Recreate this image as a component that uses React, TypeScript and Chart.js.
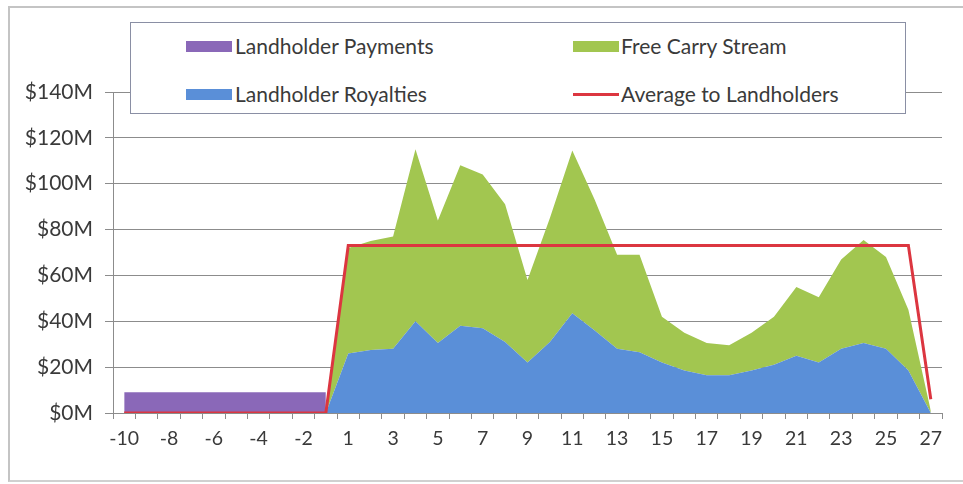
import React, { useEffect, useRef } from "react";
import { Chart, registerables } from "chart.js";

Chart.register(...registerables);

const categories: string[] = [
  "-10", "-9", "-8", "-7", "-6", "-5", "-4", "-3", "-2", "-1",
  "1", "2", "3", "4", "5", "6", "7", "8", "9", "10", "11", "12", "13", "14",
  "15", "16", "17", "18", "19", "20", "21", "22", "23", "24", "25", "26", "27",
];

// $M
const landholderPayments: (number | null)[] = [
  9, 9, 9, 9, 9, 9, 9, 9, 9, 9,
  null, null, null, null, null, null, null, null, null, null, null, null, null, null,
  null, null, null, null, null, null, null, null, null, null, null, null, null,
];

const landholderRoyalties: number[] = [
  0, 0, 0, 0, 0, 0, 0, 0, 0, 0,
  26, 27.5, 28, 40, 30.5, 38, 37, 31, 22, 31, 43.5, 36, 28, 26.5,
  22, 18.5, 16.5, 16.5, 18.5, 21, 25, 22, 28, 30.5, 28, 18.5, 0,
];

const freeCarryStream: number[] = [
  0, 0, 0, 0, 0, 0, 0, 0, 0, 0,
  46, 47.5, 49, 75, 53.5, 70, 67, 60, 36, 54, 71, 57, 41, 42.5,
  20, 16.5, 14, 13, 16.5, 21, 30, 28.5, 39, 45, 40, 26.5, 1,
];

const averageToLandholders: number[] = [
  0, 0, 0, 0, 0, 0, 0, 0, 0, 0,
  73, 73, 73, 73, 73, 73, 73, 73, 73, 73, 73, 73, 73, 73,
  73, 73, 73, 73, 73, 73, 73, 73, 73, 73, 73, 73, 6,
];

const yTicks: number[] = [0, 20, 40, 60, 80, 100, 120, 140];

const FONT = "Lato, 'Open Sans', sans-serif";
const TEXT = "#3a3a3a";
const GRID = "#8c8c8c";

const COL_PURPLE = "#8a68b8";
const COL_BLUE = "#5a8fd8";
const COL_GREEN = "#a2c650";
const COL_RED = "#dc3640";

export default function App() {
  const canvasRef = useRef<HTMLCanvasElement | null>(null);

  useEffect(() => {
    const canvas = canvasRef.current;
    if (!canvas) return;
    const chart = new Chart(canvas, {
      type: "line",
      data: {
        labels: categories,
        datasets: [
          {
            label: "Average to Landholders",
            data: averageToLandholders,
            borderColor: COL_RED,
            backgroundColor: COL_RED,
            borderWidth: 3,
            pointRadius: 0,
            fill: false,
            stack: "avg",
            tension: 0,
          },
          {
            label: "Landholder Payments",
            data: landholderPayments,
            borderColor: COL_PURPLE,
            backgroundColor: COL_PURPLE,
            borderWidth: 0,
            pointRadius: 0,
            fill: "origin",
            stack: "pay",
            spanGaps: false,
            tension: 0,
          },
          {
            label: "Landholder Royalties",
            data: landholderRoyalties,
            borderColor: COL_BLUE,
            backgroundColor: COL_BLUE,
            borderWidth: 0,
            pointRadius: 0,
            fill: "origin",
            stack: "main",
            tension: 0,
          },
          {
            label: "Free Carry Stream",
            data: freeCarryStream,
            borderColor: COL_GREEN,
            backgroundColor: COL_GREEN,
            borderWidth: 0,
            pointRadius: 0,
            fill: "-1",
            stack: "main",
            tension: 0,
          },
        ],
      },
      options: {
        responsive: false,
        animation: false,
        layout: { padding: { top: 92, right: 21, bottom: 0, left: 0 } },
        plugins: {
          legend: { display: false },
          tooltip: { enabled: false },
        },
        scales: {
          x: {
            type: "category",
            offset: true,
            grid: {
              offset: true,
              drawOnChartArea: false,
              drawTicks: true,
              tickLength: 6,
              color: GRID,
            },
            border: { color: GRID, width: 1 },
            ticks: {
              autoSkip: false,
              maxRotation: 0,
              padding: 8,
              color: TEXT,
              font: { family: FONT, size: 19.5 },
              callback: (_v: any, i: number) => (i % 2 === 0 ? categories[i] : ""),
            },
            afterFit: (axis: any) => {
              axis.height = 71;
            },
          },
          y: {
            stacked: true,
            min: 0,
            max: 140,
            afterBuildTicks: (axis: any) => {
              axis.ticks = yTicks.map((v) => ({ value: v }));
            },
            grid: {
              color: GRID,
              lineWidth: 1,
              tickLength: 8,
            },
            border: { color: GRID, width: 1 },
            ticks: {
              padding: 12,
              color: TEXT,
              font: { family: FONT, size: 21 },
              callback: (v: any) => `$${v}M`,
            },
            afterFit: (axis: any) => {
              axis.width = 113;
            },
          },
        },
      },
    });
    return () => chart.destroy();
  }, []);

  const legendText: React.CSSProperties = {
    position: "absolute",
    fontFamily: FONT,
    fontSize: 21,
    color: TEXT,
    lineHeight: "26px",
    whiteSpace: "nowrap",
  };

  return (
    <div
      style={{
        position: "fixed",
        left: 0,
        top: 0,
        width: 963,
        height: 484,
        background: "#ffffff",
        overflow: "hidden",
      }}
    >
      <canvas
        ref={canvasRef}
        width={963}
        height={484}
        style={{ position: "absolute", left: 0, top: 0, width: 963, height: 484 }}
      />
      <div
        style={{
          position: "absolute",
          left: 8,
          top: 6,
          width: 970,
          height: 476,
          borderLeft: "2px solid #c4c4c4",
          borderTop: "2px solid #c4c4c4",
          borderBottom: "2px solid #d0d0d0",
          boxSizing: "border-box",
          pointerEvents: "none",
        }}
      />
      <div
        style={{
          position: "absolute",
          left: 130,
          top: 22,
          width: 776,
          height: 92,
          border: "1.5px solid #8a8fa4",
          background: "#ffffff",
          boxSizing: "border-box",
        }}
      />
      <div style={{ position: "absolute", left: 186, top: 41, width: 46, height: 11, background: COL_PURPLE }} />
      <div style={{ ...legendText, left: 235, top: 33 }}>Landholder Payments</div>
      <div style={{ position: "absolute", left: 573, top: 41, width: 46, height: 11, background: COL_GREEN }} />
      <div style={{ ...legendText, left: 621, top: 33 }}>Free Carry Stream</div>
      <div style={{ position: "absolute", left: 186, top: 89, width: 46, height: 11, background: COL_BLUE }} />
      <div style={{ ...legendText, left: 235, top: 81 }}>Landholder Royalties</div>
      <div style={{ position: "absolute", left: 573, top: 93, width: 46, height: 3, background: COL_RED }} />
      <div style={{ ...legendText, left: 621, top: 81 }}>Average to Landholders</div>
    </div>
  );
}
